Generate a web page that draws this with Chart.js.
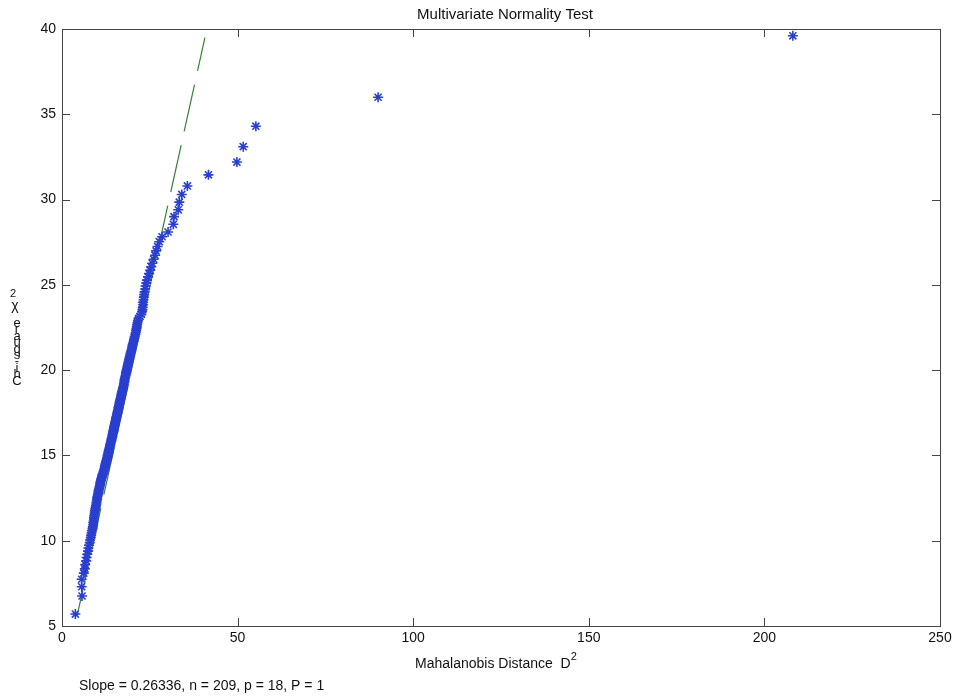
<!DOCTYPE html>
<html lang="en">
<head>
<meta charset="UTF-8">
<title>Multivariate Normality Test</title>
<script src="https://cdn.jsdelivr.net/npm/chart.js"></script>
<style>
    html, body { margin: 0; padding: 0; background: #fff; }
    #wrap { width: 959px; height: 697px; }
</style>
</head>
<body>
<div id="wrap"><canvas id="myChart" width="959" height="697"></canvas></div>
<script>
    // tick values
    const xTicks = [0, 50, 100, 150, 200, 250];
    const yTicks = [5, 10, 15, 20, 25, 30, 35, 40];

    // ordered chi-square quantiles (y)
    const chiSq = [
        5.7, 6.76, 7.3, 7.74, 8.1, 8.35, 8.6, 8.82, 9.02, 9.21,
        9.39, 9.57, 9.73, 9.89, 10.04, 10.18, 10.32, 10.45, 10.58, 10.71,
        10.82, 10.94, 11.05, 11.16, 11.27, 11.37, 11.48, 11.58, 11.68, 11.78,
        11.87, 11.97, 12.06, 12.15, 12.24, 12.33, 12.42, 12.51, 12.59, 12.68,
        12.76, 12.84, 12.92, 13.0, 13.08, 13.16, 13.24, 13.32, 13.4, 13.48,
        13.55, 13.63, 13.7, 13.78, 13.85, 13.92, 14.0, 14.07, 14.15, 14.22,
        14.29, 14.36, 14.44, 14.51, 14.58, 14.65, 14.72, 14.8, 14.87, 14.94,
        15.01, 15.08, 15.14, 15.21, 15.28, 15.35, 15.42, 15.48, 15.55, 15.62,
        15.69, 15.76, 15.83, 15.9, 15.97, 16.03, 16.1, 16.17, 16.24, 16.31,
        16.38, 16.45, 16.51, 16.58, 16.65, 16.72, 16.79, 16.86, 16.92, 16.99,
        17.06, 17.13, 17.2, 17.27, 17.34, 17.41, 17.48, 17.55, 17.62, 17.69,
        17.76, 17.83, 17.91, 17.98, 18.05, 18.12, 18.2, 18.27, 18.34, 18.42,
        18.5, 18.57, 18.65, 18.73, 18.8, 18.88, 18.96, 19.03, 19.11, 19.19,
        19.27, 19.35, 19.43, 19.51, 19.59, 19.67, 19.75, 19.84, 19.92, 20.0,
        20.09, 20.18, 20.26, 20.35, 20.44, 20.53, 20.62, 20.71, 20.8, 20.89,
        20.99, 21.08, 21.18, 21.28, 21.38, 21.48, 21.58, 21.68, 21.78, 21.88,
        21.99, 22.1, 22.21, 22.33, 22.44, 22.55, 22.67, 22.78, 22.9, 23.02,
        23.15, 23.28, 23.42, 23.55, 23.69, 23.84, 23.98, 24.13, 24.28, 24.43,
        24.59, 24.76, 24.93, 25.1, 25.28, 25.47, 25.66, 25.86, 26.06, 26.27,
        26.5, 26.74, 26.99, 27.25, 27.53, 27.82, 28.1, 28.55, 29.0, 29.4,
        29.85, 30.3, 30.8, 31.45, 32.2, 33.1, 34.3, 36.0, 39.6
    ];

    // ordered Mahalanobis distances D^2 (x)
    const mahalD2 = [
        3.8, 5.7, 5.6, 5.6, 6.2, 6.5, 6.6, 6.9, 7.0, 7.2,
        7.4, 7.5, 7.7, 7.9, 8.0, 8.2, 8.3, 8.4, 8.5, 8.7,
        8.8, 8.9, 8.9, 9.0, 9.1, 9.1, 9.2, 9.3, 9.3, 9.4,
        9.5, 9.6, 9.7, 9.8, 9.8, 9.9, 10.0, 10.0, 10.1, 10.2,
        10.3, 10.4, 10.4, 10.5, 10.6, 10.7, 10.8, 10.9, 10.9, 11.0,
        11.1, 11.2, 11.3, 11.4, 11.5, 11.6, 11.8, 11.9, 12.0, 12.1,
        12.2, 12.2, 12.3, 12.4, 12.5, 12.6, 12.7, 12.8, 12.9, 13.0,
        13.0, 13.1, 13.2, 13.3, 13.3, 13.4, 13.5, 13.6, 13.7, 13.7,
        13.8, 13.9, 14.0, 14.1, 14.1, 14.2, 14.3, 14.4, 14.4, 14.5,
        14.6, 14.6, 14.7, 14.8, 14.8, 14.9, 15.0, 15.1, 15.1, 15.2,
        15.3, 15.4, 15.4, 15.5, 15.6, 15.7, 15.8, 15.8, 15.9, 16.0,
        16.1, 16.1, 16.2, 16.3, 16.4, 16.4, 16.5, 16.6, 16.7, 16.8,
        16.9, 16.9, 17.0, 17.1, 17.2, 17.3, 17.4, 17.5, 17.6, 17.6,
        17.7, 17.8, 17.8, 17.9, 18.0, 18.1, 18.2, 18.2, 18.3, 18.4,
        18.5, 18.6, 18.7, 18.8, 18.9, 19.0, 19.1, 19.2, 19.3, 19.4,
        19.5, 19.7, 19.8, 19.9, 20.0, 20.1, 20.2, 20.4, 20.5, 20.6,
        20.7, 20.9, 21.0, 21.1, 21.2, 21.3, 21.4, 21.5, 21.6, 21.8,
        22.2, 22.6, 22.8, 22.9, 23.0, 23.1, 23.1, 23.2, 23.3, 23.4,
        23.5, 23.7, 23.8, 24.0, 24.2, 24.5, 24.8, 25.1, 25.4, 25.7,
        26.1, 26.5, 26.8, 27.2, 27.7, 28.5, 30.2, 31.7, 31.9, 33.1,
        33.4, 34.1, 35.7, 41.7, 49.8, 51.6, 55.2, 90.0, 208.1
    ];

    // dashed reference line end points
    const refX = [4.3, 40.7];
    const refY = [5.6, 39.5];

    const points = mahalD2.map((x, i) => ({ x: x, y: chiSq[i] }));
    const refLine = refX.map((x, i) => ({ x: x, y: refY[i] }));

    const FONT = '"Liberation Sans", Arial, Helvetica, sans-serif';

    // box, inward ticks and the texts
    const framePlugin = {
        id: 'frame',
        afterDraw(chart) {
            const c = chart.ctx;
            const a = chart.chartArea;
            const xs = chart.scales.x, ys = chart.scales.y;
            const tl = 8;
            c.save();
            c.strokeStyle = '#444';
            c.lineWidth = 1;
            c.strokeRect(a.left + 0.5, a.top + 0.5, a.right - a.left, a.bottom - a.top);
            c.beginPath();
            xTicks.forEach(v => {
                const px = Math.round(xs.getPixelForValue(v)) + 0.5;
                c.moveTo(px, a.bottom); c.lineTo(px, a.bottom - tl);
                c.moveTo(px, a.top); c.lineTo(px, a.top + tl);
            });
            yTicks.forEach(v => {
                const py = Math.round(ys.getPixelForValue(v)) + 0.5;
                c.moveTo(a.left, py); c.lineTo(a.left + tl, py);
                c.moveTo(a.right, py); c.lineTo(a.right - tl, py);
            });
            c.stroke();

            c.fillStyle = '#111';
            c.textBaseline = 'middle';
            c.textAlign = 'center';
            c.font = '15px ' + FONT;
            c.fillText('Multivariate Normality Test', (a.left + a.right) / 2 + 4, 15);

            // x title with raised 2
            c.font = '14px ' + FONT;
            c.textAlign = 'left';
            const xt = 'Mahalanobis Distance  D';
            const w = c.measureText(xt).width;
            const x0 = 415;
            c.fillText(xt, x0, 664);
            c.font = '11px ' + FONT;
            c.fillText('2', x0 + w, 657);

            c.font = '14px ' + FONT;
            c.fillText('Slope = 0.26336, n = 209, p = 18, P = 1', 79, 686);

            // stacked y label, letters upright going up
            c.textAlign = 'center';
            c.font = '13px ' + FONT;
            const lab = 'Chi-square';
            for (let i = 0; i < lab.length; i++) {
                c.fillText(lab[i], 17, 381 - i * 6.4);
            }
            c.font = '14px ' + FONT;
            c.fillText('\u03C7', 15, 306);
            c.font = '11px ' + FONT;
            c.fillText('2', 13, 294);
            c.restore();
        }
    };

    new Chart(document.getElementById('myChart').getContext('2d'), {
        type: 'scatter',
        data: {
            datasets: [
                {
                    label: 'D2',
                    data: points,
                    pointStyle: 'star',
                    radius: 5,
                    borderWidth: 1.6,
                    borderColor: '#2a3fcf',
                    backgroundColor: '#2a3fcf',
                    showLine: false
                },
                {
                    label: 'ref',
                    data: refLine,
                    showLine: true,
                    borderColor: '#3a7f3a',
                    borderWidth: 1.2,
                    borderDash: [48, 14],
                    pointRadius: 0,
                    fill: false
                }
            ]
        },
        options: {
            responsive: false,
            animation: false,
            events: [],
            layout: { padding: { top: 29, right: 19, left: 0, bottom: 0 } },
            plugins: {
                legend: { display: false },
                title: { display: false },
                tooltip: { enabled: false }
            },
            scales: {
                x: {
                    type: 'linear',
                    min: 0, max: 250,
                    grid: { display: false, drawTicks: false },
                    border: { display: false },
                    afterBuildTicks: s => { s.ticks = xTicks.map(v => ({ value: v })); },
                    afterFit: s => { s.height = 71; },
                    ticks: { padding: 4, color: '#111', font: { family: FONT, size: 14 } }
                },
                y: {
                    type: 'linear',
                    min: 5, max: 40,
                    grid: { display: false, drawTicks: false },
                    border: { display: false },
                    afterBuildTicks: s => { s.ticks = yTicks.map(v => ({ value: v })); },
                    afterFit: s => { s.width = 62; },
                    ticks: { padding: 6, color: '#111', font: { family: FONT, size: 14 } }
                }
            }
        },
        plugins: [framePlugin]
    });
</script>
</body>
</html>
